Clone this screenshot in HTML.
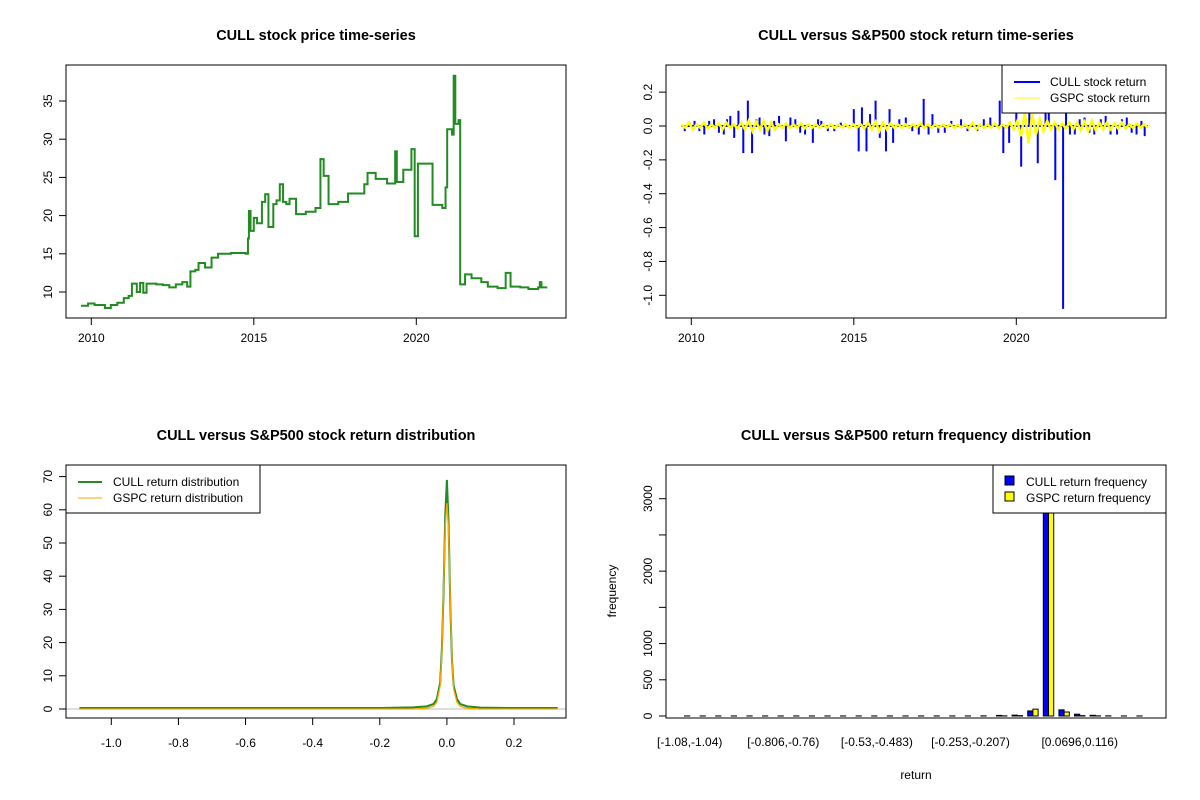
<!DOCTYPE html>
<html><head><meta charset="utf-8"><style>
html,body{margin:0;padding:0;background:#fff;}
svg{display:block;font-family:"Liberation Sans",Arial,sans-serif;}
</style></head><body>
<svg id="c" width="1200" height="800" viewBox="0 0 1200 800" xmlns="http://www.w3.org/2000/svg"></svg>
<script>
// ---------- data ----------
const priceYears = [2009.68,2009.9,2010.1,2010.42,2010.6,2010.8,2011.0,2011.15,2011.25,2011.4,2011.5,2011.6,2011.7,2012.0,2012.2,2012.4,2012.6,2012.8,2012.95,2013.05,2013.2,2013.3,2013.5,2013.7,2013.9,2014.3,2014.75,2014.82,2014.85,2014.9,2015.0,2015.1,2015.25,2015.35,2015.45,2015.6,2015.7,2015.8,2015.9,2016.0,2016.1,2016.3,2016.6,2016.9,2017.05,2017.15,2017.3,2017.6,2017.9,2018.4,2018.5,2018.75,2019.1,2019.35,2019.4,2019.6,2019.85,2019.95,2020.05,2020.5,2020.8,2020.9,2020.95,2021.1,2021.15,2021.2,2021.3,2021.35,2021.5,2021.7,2022.0,2022.2,2022.5,2022.75,2022.9,2023.2,2023.45,2023.75,2023.8,2023.85,2024.0];
const priceVals  = [8.2,8.5,8.3,7.9,8.3,8.6,9.2,9.5,11.1,10.0,11.2,9.9,11.1,11.0,10.9,10.6,11.0,11.3,10.7,12.7,12.9,13.8,13.2,14.5,15.0,15.1,15.0,17.0,20.6,18.0,19.7,19.0,21.8,22.8,18.5,21.5,22.0,24.1,21.8,21.5,22.2,20.2,20.5,21.0,27.4,25.2,21.5,21.8,22.9,24.1,25.6,24.8,24.2,28.4,24.4,26.0,28.7,17.3,26.8,21.4,21.0,23.7,31.3,30.6,38.3,32.0,32.5,11.0,12.3,11.8,11.3,10.7,10.5,12.5,10.7,10.6,10.4,10.6,11.3,10.6,10.7];
const cullRetYears = [2009.8,2009.95,2010.1,2010.25,2010.4,2010.55,2010.7,2010.85,2011.0,2011.1,2011.2,2011.32,2011.45,2011.6,2011.74,2011.87,2012.0,2012.1,2012.25,2012.4,2012.55,2012.7,2012.91,2013.05,2013.2,2013.35,2013.5,2013.74,2013.9,2014.0,2014.2,2014.4,2014.6,2015.0,2015.15,2015.25,2015.39,2015.5,2015.67,2015.8,2015.99,2016.1,2016.21,2016.4,2016.6,2016.8,2017.0,2017.15,2017.3,2017.42,2017.6,2017.8,2018.0,2018.3,2018.5,2018.8,2019.0,2019.2,2019.49,2019.6,2019.78,2020.0,2020.15,2020.4,2020.66,2020.9,2021.0,2021.2,2021.44,2021.53,2021.65,2021.8,2021.95,2022.1,2022.25,2022.4,2022.6,2022.75,2022.9,2023.1,2023.25,2023.4,2023.55,2023.7,2023.85,2023.95];
const cullRetVals  = [-0.03,0.02,0.03,-0.03,-0.05,0.03,0.04,-0.04,-0.05,0.04,0.06,-0.07,0.09,-0.16,0.15,-0.16,0.04,0.05,-0.05,-0.06,0.03,0.06,-0.09,0.05,0.04,-0.04,-0.05,-0.10,0.04,0.03,-0.03,-0.03,0.02,0.10,-0.15,0.11,-0.15,0.07,0.15,-0.07,-0.15,0.10,-0.10,0.04,0.05,-0.03,-0.05,0.16,-0.05,0.07,-0.04,-0.04,0.03,0.04,-0.03,-0.03,0.04,0.05,0.15,-0.16,-0.10,0.12,-0.24,0.08,-0.22,0.12,0.15,-0.32,-1.08,0.20,-0.05,-0.05,0.04,0.05,-0.04,-0.05,0.04,0.06,-0.05,-0.05,0.04,0.05,-0.04,-0.05,0.03,-0.06];
const gspcRetVals  = [0.01,-0.01,0.02,-0.02,0.01,-0.01,0.02,-0.015,0.01,-0.01,0.015,-0.02,0.02,-0.01,0.01,-0.015,0.02,-0.02,0.03,-0.03,0.025,-0.02,0.03,-0.03,0.02,-0.02,0.01,-0.01,0.015,-0.01,0.01,-0.01,0.015,-0.015,0.01,-0.01,0.01,-0.01,0.01,-0.01,0.01,-0.01,0.008,-0.008,0.01,-0.01,0.01,-0.01,0.01,-0.015,0.02,-0.02,0.025,-0.03,0.02,-0.02,0.015,-0.01,0.01,-0.01,0.01,-0.01,0.01,-0.01,0.015,-0.01,0.01,-0.01,0.01,-0.008,0.008,-0.008,0.01,-0.01,0.008,-0.008,0.01,-0.015,0.02,-0.02,0.01,-0.01,0.01,-0.01,0.015,-0.015,0.01,-0.01,0.02,-0.02,0.03,-0.06,0.08,-0.1,0.07,-0.05,0.04,-0.03,0.03,-0.02,0.02,-0.02,0.015,-0.015,0.02,-0.02,0.02,-0.025,0.025,-0.03,0.03,-0.025,0.02,-0.02,0.02,-0.02,0.015,-0.015,0.02,-0.015,0.01,-0.01,0.015,-0.01,0.01,-0.01];
const densX    = [-1.095,-0.2,-0.1,-0.06,-0.04,-0.03,-0.02,-0.015,-0.01,-0.005,0,0.005,0.01,0.015,0.02,0.03,0.04,0.06,0.1,0.2,0.33];
const cullDens = [0.3,0.3,0.5,0.8,1.5,3,8,18,35,58,69,56,32,15,7,3,1.5,0.8,0.4,0.3,0.3];
const gspcDens = [0,0,0,0.2,0.8,2,7,17,36,55,62,54,33,15,6,2,0.8,0.2,0,0,0];
const binLabels = ["[-1.08,-1.04)","[-0.806,-0.76)","[-0.53,-0.483)","[-0.253,-0.207)","[0.0696,0.116)"];
const binLabelIdx = [0,6,12,18,25];
const cullFreq = [1,1,1,1,1,1,1,1,1,1,1,1,1,1,1,1,1,1,1,2,8,12,70,3300,85,25,10,2,1,1];
const gspcFreq = [0,0,0,0,0,0,0,0,0,0,0,0,0,0,0,0,0,0,0,0,2,5,95,3400,55,5,2,0,0,0];

// ---------- helpers ----------
const NS="http://www.w3.org/2000/svg";
const svg=document.getElementById('c');
function el(tag,attrs,parent){const e=document.createElementNS(NS,tag);for(const k in attrs)e.setAttribute(k,attrs[k]);(parent||svg).appendChild(e);return e;}
function txt(s,x,y,opt,parent){const t=el('text',Object.assign({x:x,y:y,'font-size':12,'text-anchor':'middle',fill:'#000'},opt||{}),parent);t.textContent=s;return t;}

// ========== Panel 1 ==========
(function(){
  const L=66,R=566,T=65,B=318;
  const xs=y=>91.3+(y-2010)*32.5, ys=v=>292-(v-10)*7.64;
  const g=el('g',{});
  
  const tt=txt('CULL stock price time-series',316,40,{'font-size':14.5,'font-weight':'bold'},g);
  
  let d='';
  for(let i=0;i<priceYears.length;i++){const x=xs(priceYears[i]),y=ys(priceVals[i]);
    if(i===0)d+='M'+x+' '+y;else d+='H'+x+'V'+y;}
  const p=el('path',{d:d,fill:'none',stroke:'#228B22','stroke-width':2},g);
  
  const bx=el('rect',{x:L,y:T,width:R-L,height:B-T,fill:'none',stroke:'#000'},g);
  
  [2010,2015,2020].forEach(v=>{const x=xs(v);el('line',{x1:x,y1:B,x2:x,y2:B+7,stroke:'#000'},g);
    const t=txt(String(v),x,B+24,{},g);});
  [10,15,20,25,30,35].forEach(v=>{const y=ys(v);el('line',{x1:L,y1:y,x2:L-7,y2:y,stroke:'#000'},g);
    const t=txt(String(v),0,0,{transform:'translate('+(L-14)+','+y+') rotate(-90)'},g);});
})();

// ========== Panel 2 ==========
(function(){
  const L=666,R=1166,T=65,B=318;
  const xs=y=>691.3+(y-2010)*32.5, ys=v=>126-v*169.3;
  const g=el('g',{});
  
  const tt=txt('CULL versus S&P500 stock return time-series',916,40,{'font-size':14.5,'font-weight':'bold'},g);
  
  let d='M'+xs(2009.7)+' '+ys(0);
  for(let i=0;i<cullRetYears.length;i++){const x=xs(cullRetYears[i]);d+='H'+x+'V'+ys(cullRetVals[i])+'V'+ys(0);}
  d+='H'+xs(2024.05);
  const p=el('path',{d:d,fill:'none',stroke:'#0000FF','stroke-width':2},g);
  
  const n=gspcRetVals.length;let pts=[];
  for(let i=0;i<n;i++){pts.push(xs(2009.7+i*(14.35/(n-1)))+','+ys(gspcRetVals[i]));}
  const pl=el('polyline',{points:pts.join(' '),fill:'none',stroke:'#FFFF00','stroke-width':2.5},g);
  
  const bx=el('rect',{x:L,y:T,width:R-L,height:B-T,fill:'none',stroke:'#000'},g);
  
  [2010,2015,2020].forEach(v=>{const x=xs(v);el('line',{x1:x,y1:B,x2:x,y2:B+7,stroke:'#000'},g);
    const t=txt(String(v),x,B+24,{},g);});
  [0.2,0,-0.2,-0.4,-0.6,-0.8,-1.0].forEach(v=>{const y=ys(v);el('line',{x1:L,y1:y,x2:L-7,y2:y,stroke:'#000'},g);
    const t=txt(v.toFixed(1),0,0,{transform:'translate('+(L-14)+','+y+') rotate(-90)'},g);});
  const lg=el('g',{},g);
  el('rect',{x:1002,y:65,width:164,height:48,fill:'#fff',stroke:'#000'},lg);
  el('line',{x1:1014,y1:82,x2:1040,y2:82,stroke:'#0000FF','stroke-width':2},lg);
  el('line',{x1:1014,y1:98,x2:1040,y2:98,stroke:'#FFFF00','stroke-width':1},lg);
  txt('CULL stock return',1050,86,{'text-anchor':'start'},lg);
  txt('GSPC stock return',1050,102,{'text-anchor':'start'},lg);
})();

// ========== Panel 3 ==========
(function(){
  const L=66,R=566,T=465,B=718;
  const xs=v=>111.3+(v+1)*335.6, ys=v=>709-v*3.32;
  const g=el('g',{});
  
  const tt=txt('CULL versus S&P500 stock return distribution',316,440,{'font-size':14.5,'font-weight':'bold'},g);
  
  const z=el('line',{x1:L,y1:ys(0),x2:R,y2:ys(0),stroke:'#BEBEBE'},g);
  
  const c=el('polyline',{points:densX.map((x,i)=>xs(x)+','+ys(cullDens[i])).join(' '),fill:'none',stroke:'#228B22','stroke-width':2},g);
  
  const o=el('polyline',{points:densX.map((x,i)=>xs(x)+','+ys(gspcDens[i])).join(' '),fill:'none',stroke:'#FFA500','stroke-width':1.3},g);
  
  const bx=el('rect',{x:L,y:T,width:R-L,height:B-T,fill:'none',stroke:'#000'},g);
  
  [-1.0,-0.8,-0.6,-0.4,-0.2,0,0.2].forEach(v=>{const x=xs(v);el('line',{x1:x,y1:B,x2:x,y2:B+7,stroke:'#000'},g);
    const t=txt(v.toFixed(1),x,B+29,{},g);});
  [0,10,20,30,40,50,60,70].forEach(v=>{const y=ys(v);el('line',{x1:L,y1:y,x2:L-7,y2:y,stroke:'#000'},g);
    const t=txt(String(v),0,0,{transform:'translate('+(L-14)+','+y+') rotate(-90)'},g);});
  const lg=el('g',{},g);
  el('rect',{x:66,y:465,width:194,height:48,fill:'#fff',stroke:'#000'},lg);
  el('line',{x1:78,y1:482,x2:102,y2:482,stroke:'#228B22','stroke-width':2},lg);
  el('line',{x1:78,y1:498,x2:102,y2:498,stroke:'#FFA500','stroke-width':1},lg);
  txt('CULL return distribution',113,486,{'text-anchor':'start'},lg);
  txt('GSPC return distribution',113,502,{'text-anchor':'start'},lg);
})();

// ========== Panel 4 ==========
(function(){
  const L=666,R=1166,T=465,B=718;
  const u=5.2, x0=L+2.56*u;
  const ys=v=>716-v*0.07243;
  const g=el('g',{});
  
  const tt=txt('CULL versus S&P500 return frequency distribution',916,440,{'font-size':14.5,'font-weight':'bold'},g);
  
  const cp=el('clipPath',{id:'clip4'},g);el('rect',{x:L,y:T,width:R-L,height:B-T},cp);
  const bars=el('g',{'clip-path':'url(#clip4)'},g);
  for(let k=0;k<cullFreq.length;k++){
    const gx=x0+(1+3*k)*u;
    const b1=el('rect',{x:gx,y:ys(cullFreq[k]),width:u,height:ys(0)-ys(cullFreq[k]),fill:'#0000FF',stroke:'#000','stroke-width':1},bars);
    
    const b2=el('rect',{x:gx+u,y:ys(gspcFreq[k]),width:u,height:ys(0)-ys(gspcFreq[k]),fill:'#FFFF00',stroke:'#000','stroke-width':1},bars);
    
  }
  const bx=el('rect',{x:L,y:T,width:R-L,height:B-T,fill:'none',stroke:'#000'},g);
  
  binLabels.forEach((s,i)=>{const k=binLabelIdx[i];const x=x0+(2+3*k)*u;
    const t=txt(s,x,746,{},g);});
  [0,500,1000,1500,2000,2500,3000].forEach(v=>{const y=ys(v);el('line',{x1:L,y1:y,x2:L-7,y2:y,stroke:'#000'},g);
    if(v!==1500&&v!==2500){const t=txt(String(v),0,0,{transform:'translate('+(L-14)+','+y+') rotate(-90)'},g);}});
  const yl=txt('frequency',0,0,{transform:'translate(616,591) rotate(-90)'},g);
  
  const xl=txt('return',916,779,{},g);
  
  const lg=el('g',{},g);
  el('rect',{x:993,y:465,width:173,height:48,fill:'#fff',stroke:'#000'},lg);
  el('rect',{x:1005,y:476,width:9,height:9,fill:'#0000FF',stroke:'#000'},lg);
  el('rect',{x:1005,y:492,width:9,height:9,fill:'#FFFF00',stroke:'#000'},lg);
  txt('CULL return frequency',1026,486,{'text-anchor':'start'},lg);
  txt('GSPC return frequency',1026,502,{'text-anchor':'start'},lg);
})();
</script>
</body></html>
